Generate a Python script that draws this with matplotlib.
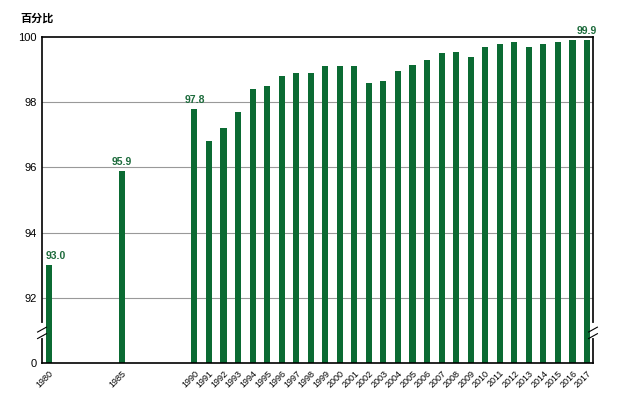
import numpy as np
import matplotlib
matplotlib.use("Agg")
import matplotlib.pyplot as plt
import matplotlib.transforms as mtransforms

# ==============================================================================
#                           DATA
# ==============================================================================
years = [1980, 1985] + list(range(1990, 2018))
values = [93.0, 95.9,
          97.8, 96.8, 97.2, 97.7, 98.4, 98.5, 98.8, 98.9, 98.9, 99.1,
          99.1, 99.1, 98.6, 98.65, 98.95, 99.15, 99.3, 99.5, 99.55, 99.4,
          99.7, 99.8, 99.85, 99.7, 99.8, 99.85, 99.9, 99.9]
labelled = {1980: "93.0", 1985: "95.9", 1990: "97.8", 2017: "99.9"}
ytick_labels = ["0", "92", "94", "96", "98", "100"]

# broken axis: 0 is drawn where 90 would sit
base = 90.0
bar_color = "#0b6b33"
text_color = "#1d6b3c"

plt.rcParams['font.family'] = ['Liberation Sans', 'Noto Sans CJK SC', 'DejaVu Sans']

fig = plt.figure(figsize=(6.24, 3.99), dpi=100)
ax = fig.add_axes([0.0673, 0.0902, 0.8830, 0.8170])

heights = np.array(values) - base
ax.bar(years, heights, width=0.42, color=bar_color, zorder=3)

for y, v in zip(years, values):
    if y in labelled:
        # first label is pushed right so it clears the left frame
        dx = 5 if y == years[0] else 0
        ax.annotate(labelled[y], (y, v - base), xytext=(dx, 3), textcoords="offset points",
                    ha="center", va="bottom", fontsize=7.5, fontweight="bold",
                    color=text_color, zorder=10, annotation_clip=False)

ax.set_xlim(1979.52, 2017.41)
ax.set_ylim(0, 10)
ax.set_yticks([0, 2, 4, 6, 8, 10])
ax.set_yticklabels(ytick_labels, fontsize=8)
ax.set_xticks(years)
ax.set_xticklabels([str(y) for y in years], rotation=45, ha="right",
                   rotation_mode="anchor", fontsize=6.5)
ax.tick_params(length=0, pad=4)

for g in [2, 4, 6, 8]:
    ax.axhline(g, color="#999999", linewidth=0.8, zorder=1)

for s in ax.spines.values():
    s.set_linewidth(1.2)
    s.set_color("black")
    s.set_zorder(4)

# axis break marks
trans = mtransforms.blended_transform_factory(ax.transAxes, ax.transData)
for xa in [0.0, 1.0]:
    ax.plot([xa, xa], [0.82, 1.18], transform=trans, color="white", lw=3,
            clip_on=False, zorder=5)
    for dy in [-0.1, 0.1]:
        ax.plot([xa - 0.008, xa + 0.008], [0.85 + dy, 1.15 + dy - 0.15],
                transform=trans, color="black", lw=0.8, clip_on=False, zorder=6)

fig.text(0.032, 0.955, "百分比", fontsize=8, fontweight="bold",
         family=['Noto Sans CJK SC', 'DejaVu Sans'], va="center", ha="left")

fig.savefig("out.png", dpi=100)
